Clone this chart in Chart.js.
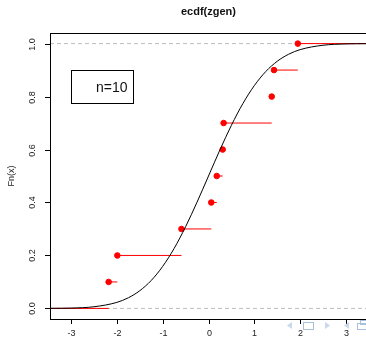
<!DOCTYPE html>
<html>
<head>
<meta charset="utf-8">
<script src="https://cdn.jsdelivr.net/npm/chart.js@4"></script>
<style>
  html, body { margin: 0; padding: 0; background: #fff; overflow: hidden; }
  #wrap { width: 372px; height: 340px; }
</style>
</head>
<body>
<div id="wrap"><canvas id="ecdf-chart" width="372" height="340"></canvas></div>
<script>
// Sauts de l'ECDF (x) et valeurs Fn(x)
const jumpX = [-2.18, -1.99, -0.59, 0.06, 0.18, 0.31, 0.33, 1.38, 1.43, 1.95];
const jumpY = [0.1, 0.2, 0.3, 0.4, 0.5, 0.6, 0.7, 0.8, 0.9, 1.0];

// Courbe noire (fonction de repartition theorique)
const curveX = [-3.46, -3.0, -2.5, -2.0, -1.75, -1.5, -1.25, -1.0, -0.75, -0.5, -0.25, 0,
                0.25, 0.5, 0.75, 1.0, 1.25, 1.5, 1.75, 2.0, 2.5, 3.0, 3.46];
const curveY = [0.0003, 0.0013, 0.0062, 0.0228, 0.0401, 0.0668, 0.1056, 0.1587, 0.2266, 0.3085, 0.4013, 0.5,
                0.5987, 0.6915, 0.7734, 0.8413, 0.8944, 0.9332, 0.9599, 0.9772, 0.9938, 0.9987, 0.9997];

// Axes
const xTicks = [-3, -2, -1, 0, 1, 2, 3];
const yTicks = [0.0, 0.2, 0.4, 0.6, 0.8, 1.0];
const yTickLabels = ['0.0', '0.2', '0.4', '0.6', '0.8', '1.0'];
const xRange = [-3.46, 3.46];
const yRange = [-0.04, 1.04];
const refLines = [0, 1];

const titleText = 'ecdf(zgen)';
const yTitle = 'Fn(x)';
const legendText = 'n=10';
// coin haut-gauche et bas-droit de la boite de legende (unites des donnees)
const legendBox = [-3.0, 0.90, -1.65, 0.776];

// Segments horizontaux en escalier
function buildSteps() {
    const pts = [];
    const xs = [xRange[0]].concat(jumpX);
    const ys = [0].concat(jumpY);
    for (let i = 0; i < xs.length; i++) {
        const xEnd = i + 1 < xs.length ? xs[i + 1] : xRange[1];
        pts.push({ x: xs[i], y: ys[i] });
        pts.push({ x: xEnd, y: ys[i] });
        pts.push({ x: xEnd, y: null });
    }
    return pts;
}

const rPlot = {
    id: 'rPlot',
    afterDraw(chart) {
        const ctx = chart.ctx;
        const a = chart.chartArea;
        const xs = chart.scales.x;
        const ys = chart.scales.y;
        ctx.save();
        ctx.strokeStyle = '#000';
        ctx.fillStyle = '#222';
        ctx.lineWidth = 1;

        // boite
        ctx.strokeRect(Math.round(a.left) + 0.5, Math.round(a.top) + 0.5,
            Math.round(a.right - a.left), Math.round(a.bottom - a.top));

        // axe x
        ctx.font = '9px "Liberation Sans", Arial, sans-serif';
        ctx.textAlign = 'center';
        ctx.textBaseline = 'middle';
        xTicks.forEach(v => {
            const px = Math.round(xs.getPixelForValue(v)) + 0.5;
            ctx.beginPath();
            ctx.moveTo(px, a.bottom);
            ctx.lineTo(px, a.bottom + 5);
            ctx.stroke();
            ctx.fillText(String(v).replace('-', '-'), px, a.bottom + 15);
        });

        // axe y (etiquettes tournees comme dans R)
        yTicks.forEach((v, i) => {
            const py = Math.round(ys.getPixelForValue(v)) + 0.5;
            ctx.beginPath();
            ctx.moveTo(a.left - 5, py);
            ctx.lineTo(a.left, py);
            ctx.stroke();
            ctx.save();
            ctx.translate(a.left - 17, py);
            ctx.rotate(-Math.PI / 2);
            ctx.fillText(yTickLabels[i], 0, 0);
            ctx.restore();
        });

        // titre de l'axe y
        ctx.save();
        ctx.translate(12, 176);
        ctx.rotate(-Math.PI / 2);
        ctx.fillText(yTitle, 0, 0);
        ctx.restore();

        // titre principal
        ctx.font = 'bold 11px "Liberation Sans", Arial, sans-serif';
        ctx.fillStyle = '#111';
        ctx.fillText(titleText, (a.left + a.right) / 2, 12);

        // legende n=10
        const bx0 = Math.round(xs.getPixelForValue(legendBox[0])) + 0.5;
        const by0 = Math.round(ys.getPixelForValue(legendBox[1])) + 0.5;
        const bx1 = Math.round(xs.getPixelForValue(legendBox[2])) + 0.5;
        const by1 = Math.round(ys.getPixelForValue(legendBox[3])) + 0.5;
        ctx.strokeRect(bx0, by0, bx1 - bx0, by1 - by0);
        ctx.font = '14px "Liberation Sans", Arial, sans-serif';
        ctx.textAlign = 'right';
        ctx.fillText(legendText, bx1 - 6, (by0 + by1) / 2 + 1);

        // petits boutons de navigation du visualiseur
        ctx.fillStyle = '#c9d8ea';
        ctx.strokeStyle = '#a9c0dc';
        ctx.beginPath();
        ctx.moveTo(292, 322); ctx.lineTo(287, 325.5); ctx.lineTo(292, 329); ctx.closePath(); ctx.fill();
        ctx.strokeRect(303.5, 322.5, 10, 7);
        ctx.beginPath();
        ctx.moveTo(325, 322); ctx.lineTo(330, 325.5); ctx.lineTo(325, 329); ctx.closePath(); ctx.fill();
        ctx.beginPath();
        ctx.moveTo(349, 322); ctx.lineTo(344, 325.5); ctx.lineTo(349, 329); ctx.closePath(); ctx.fill();
        ctx.strokeRect(357.5, 323.5, 10, 6);
        ctx.strokeRect(360.5, 320.5, 8, 4);
        ctx.restore();
    }
};

const chart = new Chart(document.getElementById('ecdf-chart'), {
    type: 'scatter',
    data: {
        datasets: [
            {
                // courbe theorique
                type: 'line',
                data: curveX.map((x, i) => ({ x: x, y: curveY[i] })),
                borderColor: '#000',
                borderWidth: 1,
                pointRadius: 0,
                fill: false,
                cubicInterpolationMode: 'monotone',
                order: 0
            },
            {
                // points de l'ECDF
                data: jumpX.map((x, i) => ({ x: x, y: jumpY[i] })),
                backgroundColor: '#ff0000',
                borderColor: '#ff0000',
                pointRadius: 2.8,
                order: 1
            },
            {
                // paliers
                type: 'line',
                data: buildSteps(),
                borderColor: '#ff0000',
                borderWidth: 1,
                pointRadius: 0,
                spanGaps: false,
                fill: false,
                order: 2
            },
            {
                // lignes horizontales pointillees
                type: 'line',
                data: refLines.flatMap(h => [{ x: xRange[0], y: h }, { x: xRange[1], y: h }, { x: xRange[1], y: null }]),
                borderColor: '#bdbdbd',
                borderWidth: 1,
                borderDash: [4, 3],
                pointRadius: 0,
                spanGaps: false,
                fill: false,
                order: 3
            }
        ]
    },
    options: {
        responsive: false,
        animation: false,
        layout: { padding: { left: 50, top: 33, right: 4, bottom: 21 } },
        scales: {
            x: { type: 'linear', min: xRange[0], max: xRange[1], display: false },
            y: { type: 'linear', min: yRange[0], max: yRange[1], display: false }
        },
        plugins: {
            legend: { display: false },
            tooltip: { enabled: false },
            title: { display: false }
        }
    },
    plugins: [rPlot]
});
</script>
</body>
</html>
